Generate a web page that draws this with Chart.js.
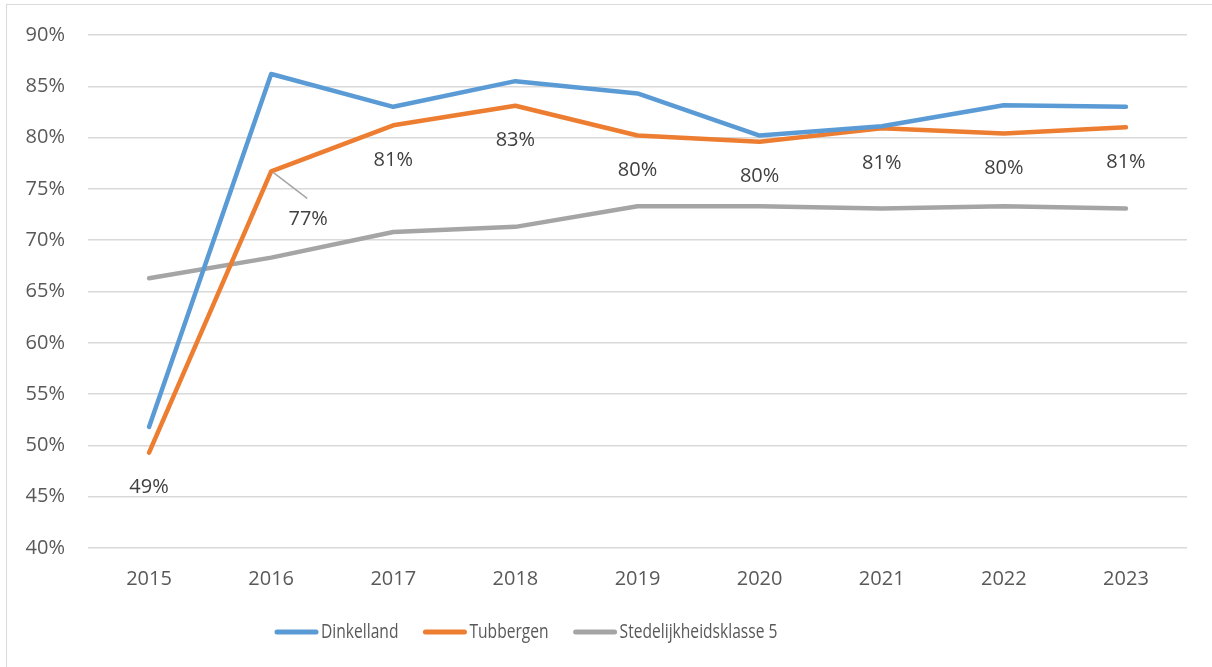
<!DOCTYPE html>
<html>
<head>
<meta charset="utf-8">
<script src="https://cdn.jsdelivr.net/npm/chart.js@4"></script>
<style>
  html, body { margin: 0; padding: 0; background: #fff; }
  #wrap { position: relative; width: 1212px; height: 667px; }
  #frame { position: absolute; left: 6px; top: 4px; width: 1240px; height: 700px;
           border: 1.5px solid #d9d9d9; pointer-events: none; }
</style>
</head>
<body>
<div id="wrap">
  <canvas id="chart"></canvas>
  <div id="frame"></div>
</div>
<script>
// ---- data ----
const years = ['2015', '2016', '2017', '2018', '2019', '2020', '2021', '2022', '2023'];
const dinkelland = [51.8, 86.2, 83.0, 85.5, 84.3, 80.2, 81.1, 83.15, 83.0];
const tubbergen = [49.3, 76.7, 81.2, 83.1, 80.2, 79.6, 80.9, 80.4, 81.0];
const stedelijk5 = [66.3, 68.3, 70.8, 71.3, 73.3, 73.3, 73.1, 73.3, 73.1];
const seriesNames = ['Dinkelland', 'Tubbergen', 'Stedelijkheidsklasse 5'];
const seriesColors = ['#5B9BD5', '#ED7D31', '#A5A5A5'];

const FONT = "'Open Sans', sans-serif";

// Labels under the Tubbergen points (with leader line for 2016)
const pointLabels = {
  id: 'pointLabels',
  afterDatasetsDraw(chart) {
    const ctx = chart.ctx;
    const meta = chart.getDatasetMeta(1);
    ctx.save();
    ctx.font = '20px ' + FONT;
    ctx.fillStyle = '#404040';
    ctx.textAlign = 'center';
    ctx.textBaseline = 'middle';
    meta.data.forEach((pt, i) => {
      const txt = Math.round(tubbergen[i]) + '%';
      if (i === 1) {
        // leader line
        ctx.strokeStyle = '#A5A5A5';
        ctx.lineWidth = 1.5;
        ctx.beginPath();
        ctx.moveTo(pt.x + 2, pt.y + 1);
        ctx.lineTo(pt.x + 36, pt.y + 27);
        ctx.stroke();
        ctx.fillText(txt, pt.x + 37, pt.y + 48);
      } else {
        ctx.fillText(txt, pt.x, pt.y + 35);
      }
    });
    ctx.restore();
  }
};

// Bottom legend drawn like the original (short line swatch, narrow text)
const bottomLegend = {
  id: 'bottomLegend',
  afterDraw(chart) {
    const ctx = chart.ctx;
    const squeeze = 0.78; // original legend font is a condensed face
    ctx.save();
    ctx.font = '20px ' + FONT;
    ctx.textBaseline = 'middle';
    const y = 632;
    let x = 277;
    chart.data.datasets.forEach((ds) => {
      ctx.strokeStyle = ds.borderColor;
      ctx.lineWidth = 5;
      ctx.lineCap = 'round';
      ctx.beginPath();
      ctx.moveTo(x, y);
      ctx.lineTo(x + 39, y);
      ctx.stroke();
      const tx = x + 44;
      ctx.save();
      ctx.translate(tx, y);
      ctx.scale(squeeze, 1);
      ctx.fillStyle = '#595959';
      ctx.fillText(ds.label, 0, 0);
      ctx.restore();
      x = tx + ctx.measureText(ds.label).width * squeeze + 27;
    });
    ctx.restore();
  }
};

const datasets = [dinkelland, tubbergen, stedelijk5].map((vals, i) => ({
  label: seriesNames[i],
  data: vals,
  borderColor: seriesColors[i],
  backgroundColor: seriesColors[i],
  borderWidth: 4.5,
  pointRadius: 0,
  tension: 0,
  borderCapStyle: 'round',
  borderJoinStyle: 'round'
}));

new Chart(document.getElementById('chart'), {
  type: 'line',
  data: { labels: years, datasets: datasets },
  options: {
    responsive: true,
    maintainAspectRatio: false,
    animation: false,
    layout: { padding: { top: 33, right: 25, bottom: 69, left: 0 } },
    plugins: {
      legend: { display: false },
      tooltip: { enabled: false }
    },
    scales: {
      x: {
        offset: true,
        grid: { display: false, drawTicks: false },
        border: { display: false },
        ticks: { color: '#595959', font: { family: FONT, size: 20 }, padding: 19, maxRotation: 0 },
        afterFit(scale) { scale.height = 50; }
      },
      y: {
        min: 40,
        max: 90,
        grid: { color: '#d9d9d9', lineWidth: 1.5, drawTicks: false },
        border: { display: false },
        ticks: {
          stepSize: 5,
          color: '#595959',
          font: { family: FONT, size: 20 },
          padding: 23,
          callback: v => v + '%'
        },
        afterFit(scale) { scale.width = 88; }
      }
    }
  },
  plugins: [pointLabels, bottomLegend]
});
</script>
</body>
</html>
